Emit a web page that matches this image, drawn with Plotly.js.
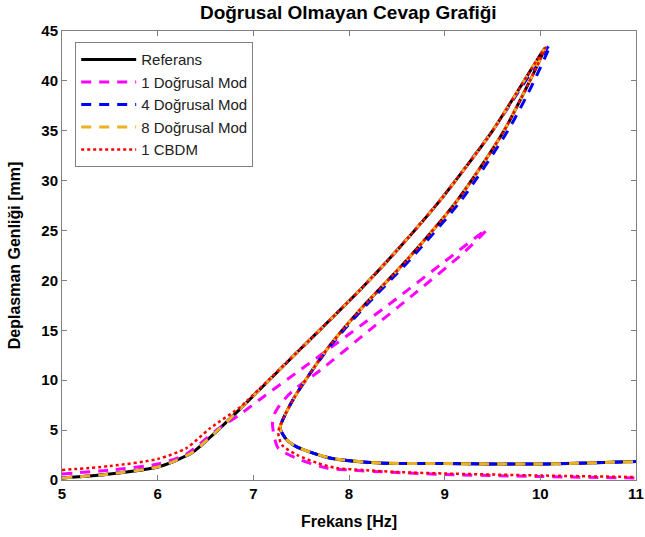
<!DOCTYPE html>
<html>
<head>
<meta charset="utf-8">
<script src="https://cdn.plot.ly/plotly-3.0.1.min.js"></script>
<style>html,body{margin:0;padding:0;background:#fff;}#chart{width:645px;height:537px;}</style>
</head>
<body>
<div id="chart"></div>
<script>
// Referans
const refX = [5.0, 5.5, 6.0, 6.2, 6.37, 6.55, 6.86, 7.07, 7.5, 8.11, 8.5, 8.95, 9.5, 10.05, 9.62, 9.13, 8.6, 8.11, 7.8, 7.58, 7.43, 7.33, 7.28, 7.35, 7.46, 7.8, 8.32, 9.0, 10.0, 11.0];
const refY = [0.2, 0.6, 1.3, 2.0, 2.8, 4.3, 7.1, 9.1, 13.2, 19.0, 23.0, 28.0, 35.0, 43.3, 35.0, 28.0, 22.0, 17.0, 13.5, 10.5, 8.3, 6.5, 5.2, 4.0, 3.3, 2.2, 1.7, 1.65, 1.6, 1.85];
// 1 Doğrusal Mod
const mod1X = [5.0, 5.5, 6.0, 6.3, 6.6, 6.85, 7.1, 7.5, 8.0, 8.5, 9.0, 9.44, 9.2, 8.7, 8.2, 7.7, 7.42, 7.29, 7.22, 7.2, 7.26, 7.5, 7.77, 8.0, 8.5, 9.0, 10.0, 11.0];
const mod1Y = [0.6, 1.0, 1.6, 2.6, 4.9, 6.5, 8.3, 11.1, 14.6, 18.2, 21.9, 25.1, 22.8, 18.8, 14.9, 11.0, 9.0, 7.7, 6.6, 5.6, 3.2, 2.0, 1.2, 1.0, 0.75, 0.55, 0.35, 0.2];
// 4 Doğrusal Mod
const mod4X = [5.0, 5.5, 6.0, 6.2, 6.37, 6.55, 6.86, 7.07, 7.5, 8.11, 8.5, 8.95, 9.5, 10.1, 9.9, 9.66, 9.17, 8.63, 8.13, 7.81, 7.58, 7.43, 7.33, 7.28, 7.35, 7.46, 7.8, 8.32, 9.0, 10.0, 11.0];
const mod4Y = [0.2, 0.6, 1.3, 2.0, 2.8, 4.3, 7.1, 9.1, 13.2, 19.0, 23.0, 28.0, 35.0, 43.6, 39.3, 35.0, 28.0, 22.0, 17.0, 13.5, 10.5, 8.3, 6.5, 5.2, 4.0, 3.3, 2.2, 1.7, 1.65, 1.6, 1.85];
// 8 Doğrusal Mod
const mod8X = [5.0, 5.5, 6.0, 6.2, 6.37, 6.55, 6.86, 7.07, 7.5, 8.11, 8.5, 8.95, 9.5, 10.05, 9.62, 9.13, 8.6, 8.11, 7.8, 7.58, 7.43, 7.33, 7.28, 7.35, 7.46, 7.8, 8.32, 9.0, 10.0, 11.0];
const mod8Y = [0.2, 0.6, 1.3, 2.0, 2.8, 4.3, 7.1, 9.1, 13.2, 19.0, 23.0, 28.0, 35.0, 43.3, 35.0, 28.0, 22.0, 17.0, 13.5, 10.5, 8.3, 6.5, 5.2, 4.0, 3.3, 2.2, 1.7, 1.65, 1.6, 1.85];
// 1 CBDM
const cbdmX = [5.0, 5.5, 6.0, 6.3, 6.55, 6.86, 7.07, 7.5, 8.11, 8.5, 8.95, 9.5, 10.05, 9.62, 9.13, 8.6, 8.11, 7.8, 7.58, 7.43, 7.32, 7.26, 7.3, 7.46, 7.67, 7.87, 8.15, 8.5, 9.0, 10.0, 11.0];
const cbdmY = [1.0, 1.4, 2.1, 3.2, 5.2, 7.3, 9.2, 13.2, 19.0, 23.0, 28.0, 35.0, 43.3, 35.0, 28.0, 22.0, 17.0, 13.5, 10.5, 8.3, 6.3, 4.8, 3.5, 2.5, 1.7, 1.2, 1.0, 0.8, 0.65, 0.45, 0.3];

const names = ["Referans", "1 Doğrusal Mod", "4 Doğrusal Mod", "8 Doğrusal Mod", "1 CBDM"];
const xTicks = [5, 6, 7, 8, 9, 10, 11];
const yTicks = [0, 5, 10, 15, 20, 25, 30, 35, 40, 45];

const FONT = 'Liberation Sans, Arial, sans-serif';
const sm = 0.7;
const traces = [
  {x: refX, y: refY, name: names[0], mode: 'lines', line: {color: '#000000', width: 3, shape: 'spline', smoothing: sm}},
  {x: mod1X, y: mod1Y, name: names[1], mode: 'lines', line: {color: '#ff00ff', width: 3, dash: '10px,8px', shape: 'spline', smoothing: sm}},
  {x: mod4X, y: mod4Y, name: names[2], mode: 'lines', line: {color: '#0000ff', width: 3, dash: '10px,8px', shape: 'spline', smoothing: sm}},
  {x: mod8X, y: mod8Y, name: names[3], mode: 'lines', line: {color: '#edb120', width: 3, dash: '10px,8px', shape: 'spline', smoothing: sm}},
  {x: cbdmX, y: cbdmY, name: names[4], mode: 'lines', line: {color: '#ff0000', width: 2.5, dash: 'dot', shape: 'spline', smoothing: sm}}
];

const axisCommon = {
  showline: true, linecolor: '#808080', linewidth: 1, mirror: 'ticks',
  ticks: 'inside', ticklen: 5, tickcolor: '#808080', showgrid: false, zeroline: false,
  tickfont: {family: FONT, size: 15, color: '#000', weight: 'bold'}
};

const layout = {
  width: 645, height: 537,
  margin: {l: 62, r: 9, t: 31, b: 57},
  paper_bgcolor: '#fff', plot_bgcolor: '#fff',
  title: {text: '<b>Doğrusal Olmayan Cevap Grafiği</b>', x: 0.54, xanchor: 'center', y: 0.977, yanchor: 'middle',
          font: {family: FONT, size: 19, color: '#000'}},
  xaxis: Object.assign({}, axisCommon, {range: [5, 11], tickvals: xTicks, ticktext: xTicks.map(String),
          title: {text: '<b>Frekans [Hz]</b>', standoff: 14, font: {family: FONT, size: 16, color: '#000'}}}),
  yaxis: Object.assign({}, axisCommon, {range: [0, 45], tickvals: yTicks, ticktext: yTicks.map(String),
          title: {text: '<b>Deplasman Genliği [mm]</b>', standoff: 16, font: {family: FONT, size: 16, color: '#000'}}}),
  showlegend: true,
  legend: {x: 0.023, y: 0.975, xanchor: 'left', yanchor: 'top', bgcolor: '#fff', bordercolor: '#808080', borderwidth: 1,
           itemwidth: 55, font: {family: FONT, size: 15, color: '#222'}, tracegroupgap: 0}
};

Plotly.newPlot('chart', traces, layout, {displayModeBar: false, staticPlot: true});
</script>
</body>
</html>
